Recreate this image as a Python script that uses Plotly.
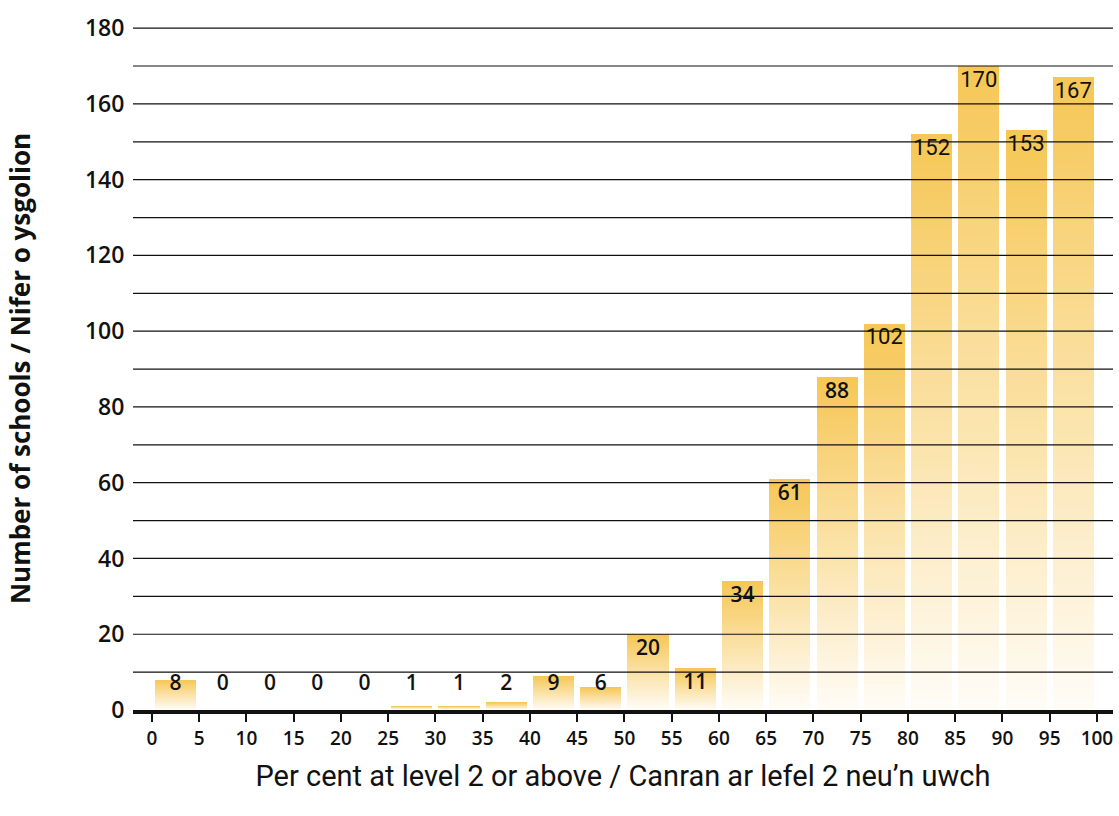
import plotly.graph_objects as go

# ---- data ----
bin_starts = [0, 5, 10, 15, 20, 25, 30, 35, 40, 45, 50, 55, 60, 65, 70, 75, 80, 85, 90, 95]
counts = [8, 0, 0, 0, 0, 1, 1, 2, 9, 6, 20, 11, 34, 61, 88, 102, 152, 170, 153, 167]
x_ticks = list(range(0, 101, 5))
y_ticks = list(range(0, 181, 20))
grid_vals = list(range(10, 181, 10))

BIN_W = 5
centers = [b + BIN_W / 2 for b in bin_starts]

TOP = (246, 199, 86)
BOT = (255, 252, 246)
N = 60

MAIN_FONT = "Open Sans"
NARROW_FONT = "Roboto"

fig = go.Figure()

# gradient bars: overlaid bars of decreasing height, lighter towards bottom
for k in range(N):
    f = 1 - k / N
    t = k / (N - 1)
    c = tuple(round(TOP[i] + (BOT[i] - TOP[i]) * t) for i in range(3))
    fig.add_trace(go.Bar(
        x=centers, y=[v * f for v in counts], width=4.35,
        marker=dict(color="rgb(%d,%d,%d)" % c, line=dict(width=0)),
        hoverinfo="skip", showlegend=False,
    ))

# value labels
lab_y = [max(v, 10.8) for v in counts]
small = [i for i, v in enumerate(counts) if v < 100]
big = [i for i, v in enumerate(counts) if v >= 100]
fig.add_trace(go.Scatter(
    x=[centers[i] for i in small], y=[lab_y[i] for i in small],
    text=[str(counts[i]) for i in small], mode="markers+text", textposition="bottom center",
    marker=dict(size=7, opacity=0),
    textfont=dict(family=MAIN_FONT, size=21, color="#111", weight=600),
    hoverinfo="skip", showlegend=False, cliponaxis=False,
))
fig.add_trace(go.Scatter(
    x=[centers[i] for i in big], y=[lab_y[i] for i in big],
    text=[str(counts[i]) for i in big], mode="markers+text", textposition="bottom center",
    marker=dict(size=5, opacity=0),
    textfont=dict(family=NARROW_FONT, size=22, color="#111", weight=400),
    hoverinfo="skip", showlegend=False, cliponaxis=False,
))

# gridlines above bars
for g in grid_vals:
    fig.add_shape(type="line", xref="paper", x0=0, x1=1, yref="y", y0=g, y1=g,
                  line=dict(color="#111", width=1.2), layer="above")

fig.update_layout(
    width=1119, height=816,
    margin=dict(l=133, r=6, t=27, b=106),
    paper_bgcolor="white", plot_bgcolor="white",
    barmode="overlay", bargap=0,
    font=dict(family=MAIN_FONT, color="#111"),
)
fig.update_xaxes(
    range=[-2.0, 101.7], tickvals=x_ticks, ticktext=[str(t) for t in x_ticks],
    showgrid=False, zeroline=False, showline=True, linecolor="#111", linewidth=4,
    ticks="outside", ticklen=8, tickwidth=1.5, tickcolor="#111",
    tickfont=dict(size=19, family=MAIN_FONT, weight=600),
    title=dict(text="Per cent at level 2 or above / Canran ar lefel 2 neu\u2019n uwch",
               font=dict(size=29, family=NARROW_FONT, weight=400), standoff=17),
    layer="above traces", fixedrange=True,
)
fig.update_yaxes(
    range=[0, 180.3], tickvals=y_ticks, showgrid=False, zeroline=False, showline=False,
    ticks="outside", ticklen=3, tickcolor="rgba(0,0,0,0)",
    tickfont=dict(size=23, family=MAIN_FONT, weight=600),
    title=dict(text="Number of schools / Nifer o ysgolion",
               font=dict(size=26, family=MAIN_FONT, weight=700), standoff=46),
    fixedrange=True,
)

fig.write_html("out.html", config={"displayModeBar": False},
               post_script="document.body.style.margin='0px';")
